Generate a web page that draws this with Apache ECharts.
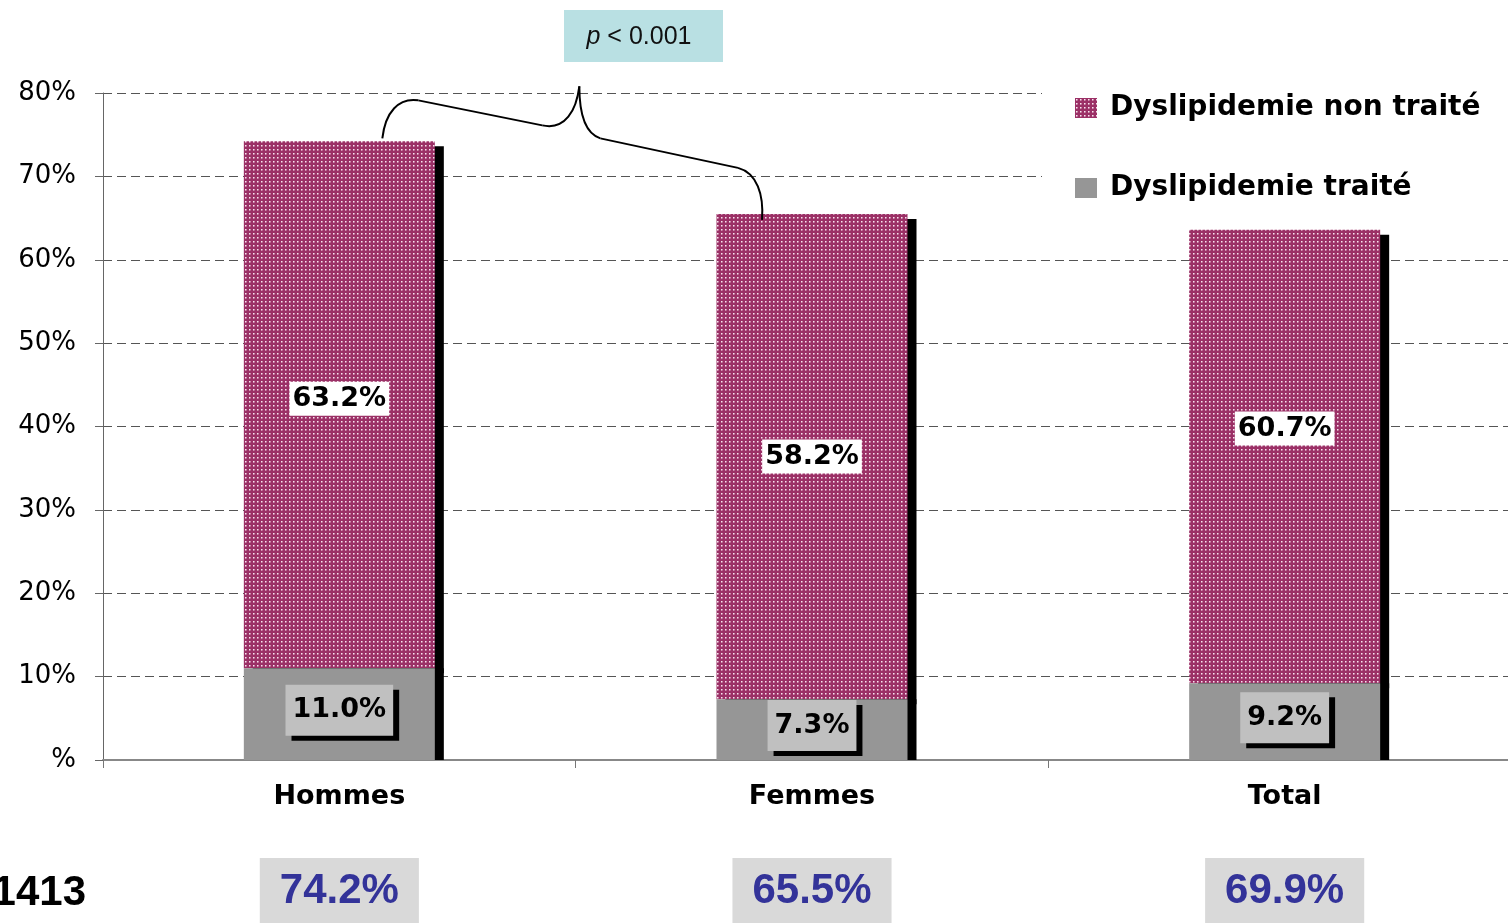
<!DOCTYPE html>
<html><head><meta charset="utf-8">
<script src="https://cdn.jsdelivr.net/npm/echarts@6/dist/echarts.min.js"></script>
<style>html,body{margin:0;padding:0;background:#fff}#c{width:1508px;height:923px}</style>
</head><body><div id="c"></div>
<script>
// ---- data ----
const categories = ['Hommes', 'Femmes', 'Total'];
const treated = [11.0, 7.3, 9.2];              // Dyslipidemie traité
const untreated = [63.2, 58.2, 54.4];          // Dyslipidemie non traité (bar heights as drawn)
const untreatedLabels = ['63.2%', '58.2%', '60.7%']; // printed labels
const totals = ['74.2%', '65.5%', '69.9%'];    // boxed totals under the axis
const sampleSize = '1413';
const pValueText = 'p';
const pValueRest = ' < 0.001';
const yMin = 0, yMax = 80, yStep = 10;

// style only: vertical nudges of the printed labels inside the upper segments
const untreatedLabelShift = [-6, 0, -28];

function makePattern() {
  const c = document.createElement('canvas');
  c.width = 4; c.height = 4;
  const g = c.getContext('2d');
  g.fillStyle = '#9b3066'; g.fillRect(0, 0, 4, 4);
  g.fillStyle = '#f6e4ee'; g.fillRect(1, 1, 1, 1);
  g.fillStyle = '#cf8fb0'; g.fillRect(2, 1, 1, 1); g.fillRect(1, 2, 1, 1);
  g.fillStyle = '#b45f8a'; g.fillRect(2, 2, 1, 1);
  return c;
}
const pattern = { image: makePattern(), repeat: 'repeat' };

const chart = echarts.init(document.getElementById('c'), null, { renderer: 'canvas' });
const labelFont = 'DejaVu Sans';

chart.setOption({
  animation: false,
  backgroundColor: '#fff',
  grid: { left: 103, top: 93, width: 1418, height: 667, containLabel: false, outerBoundsMode: 'none' },
  legend: {
    orient: 'vertical', left: 1042, top: 78,
    padding: [15, 80, 15, 33], backgroundColor: '#fff',
    itemGap: 50, itemWidth: 22, itemHeight: 20, icon: 'rect',
    selectedMode: false,
    data: ['Dyslipidemie non traité', 'Dyslipidemie traité'],
    textStyle: { fontFamily: labelFont, fontWeight: 'bold', fontSize: 28, color: '#000', lineHeight: 30, padding: [0, 0, 0, 8] },
    itemStyle: { shadowColor: 'rgba(0,0,0,0)', shadowOffsetX: 0, shadowOffsetY: 0, shadowBlur: 0 }
  },
  xAxis: {
    type: 'category', data: categories,
    axisLine: { show: true, lineStyle: { color: '#888', width: 2 } },
    axisTick: { show: true, length: 8, lineStyle: { color: '#777', width: 1 } },
    splitLine: { show: false },
    axisLabel: {
      margin: 22, interval: 0,
      formatter: (v, i) => '{cat|' + v + '}\n{sp| }\n{tot|' + totals[i] + '}',
      rich: {
        cat: { fontFamily: labelFont, fontWeight: 'bold', fontSize: 27, color: '#000', lineHeight: 30 },
        sp: { fontSize: 10, lineHeight: 46 },
        tot: { fontFamily: 'Liberation Sans, Arial', fontWeight: 'bold', fontSize: 42, color: '#333399',
               backgroundColor: '#D9D9D9', padding: [12, 20, 12, 20] }
      }
    }
  },
  yAxis: {
    type: 'value', min: yMin, max: yMax, interval: yStep,
    axisLine: { show: true, lineStyle: { color: '#666', width: 1 } },
    axisTick: { show: true, length: 8, lineStyle: { color: '#666', width: 1 } },
    splitLine: { show: true, lineStyle: { color: '#555', type: [9, 5], width: 1 } },
    axisLabel: {
      margin: 27, fontFamily: labelFont, fontSize: 26, color: '#000',
      formatter: v => v === 0 ? '%' : v + '%'
    }
  },
  series: [
    {
      name: 'Dyslipidemie traité', type: 'bar', stack: 'dys', barWidth: 191, z: 3,
      data: treated,
      itemStyle: { color: '#969696', shadowColor: '#000', shadowOffsetX: 9, shadowOffsetY: 0, shadowBlur: 0 },
      label: {
        show: true, position: 'inside', offset: [0, -4],
        formatter: p => p.value.toFixed(1) + '%',
        fontFamily: labelFont, fontWeight: 'bold', fontSize: 27, color: '#000',
        textBorderWidth: 0, backgroundColor: '#C0C0C0', padding: [12, 7, 12, 7],
        shadowColor: '#000', shadowOffsetX: 6, shadowOffsetY: 5, shadowBlur: 0
      }
    },
    {
      name: 'Dyslipidemie non traité', type: 'bar', stack: 'dys', barWidth: 191, z: 2,
      data: untreated.map((v, i) => ({ value: v, label: { offset: [0, untreatedLabelShift[i]] } })),
      itemStyle: { color: pattern, shadowColor: '#000', shadowOffsetX: 9, shadowOffsetY: 5, shadowBlur: 0 },
      label: {
        show: true, position: 'inside',
        formatter: p => untreatedLabels[p.dataIndex],
        fontFamily: labelFont, fontWeight: 'bold', fontSize: 27, color: '#000',
        textBorderWidth: 0, backgroundColor: '#fff', padding: [4, 3, 3, 3]
      }
    }
  ]
});

// annotations: curly brace between the Hommes and Femmes bars
const hTop = chart.convertToPixel({ xAxisIndex: 0, yAxisIndex: 0 }, [0, treated[0] + untreated[0]]);
const fTop = chart.convertToPixel({ xAxisIndex: 0, yAxisIndex: 0 }, [1, treated[1] + untreated[1]]);
const lx = hTop[0] + 43, ly = hTop[1] - 3;
const rx = fTop[0] - 50, ry = fTop[1] + 6;
const tx = lx + 197, ty = ly - 52;
const braceStyle = { fill: null, stroke: '#000', lineWidth: 2 };
function curve(x1, y1, c1x, c1y, c2x, c2y, x2, y2) {
  return { type: 'bezierCurve', z: 10, shape: { x1: x1, y1: y1, cpx1: c1x, cpy1: c1y, cpx2: c2x, cpy2: c2y, x2: x2, y2: y2 }, style: braceStyle };
}
function seg(x1, y1, x2, y2) {
  return { type: 'line', z: 10, shape: { x1: x1, y1: y1, x2: x2, y2: y2 }, style: braceStyle };
}

chart.setOption({
  graphic: [
    curve(lx, ly, lx + 3, ly - 26, lx + 16, ly - 41, lx + 36, ly - 38),
    seg(lx + 36, ly - 38, lx + 160, ly - 13),
    curve(lx + 160, ly - 13, lx + 183, ly - 8, lx + 194, ly - 28, tx, ty),
    curve(tx, ty, tx, ty + 26, tx + 5, ty + 47, tx + 21, ty + 52),
    seg(tx + 21, ty + 52, rx - 24, ry - 52),
    curve(rx - 24, ry - 52, rx - 5, ry - 47, rx + 2, ry - 25, rx, ry),
    { type: 'rect', shape: { x: 564, y: 10, width: 159, height: 52 }, style: { fill: '#B9E0E3' }, z: 10 },
    { type: 'text', x: 639, y: 37, z: 11,
      style: { text: '{i|' + pValueText + '}' + pValueRest, align: 'center', verticalAlign: 'middle',
               fontFamily: 'Liberation Sans, Arial', fontSize: 25, fill: '#111',
               rich: { i: { fontStyle: 'italic', fontFamily: 'Liberation Sans, Arial', fontSize: 25, fill: '#111' } } } },
    { type: 'text', x: 86, y: 893, z: 11,
      style: { text: sampleSize, align: 'right', verticalAlign: 'middle',
               fontFamily: 'Liberation Sans, Arial', fontWeight: 'bold', fontSize: 42, fill: '#000' } }
  ]
});
</script>
</body></html>
